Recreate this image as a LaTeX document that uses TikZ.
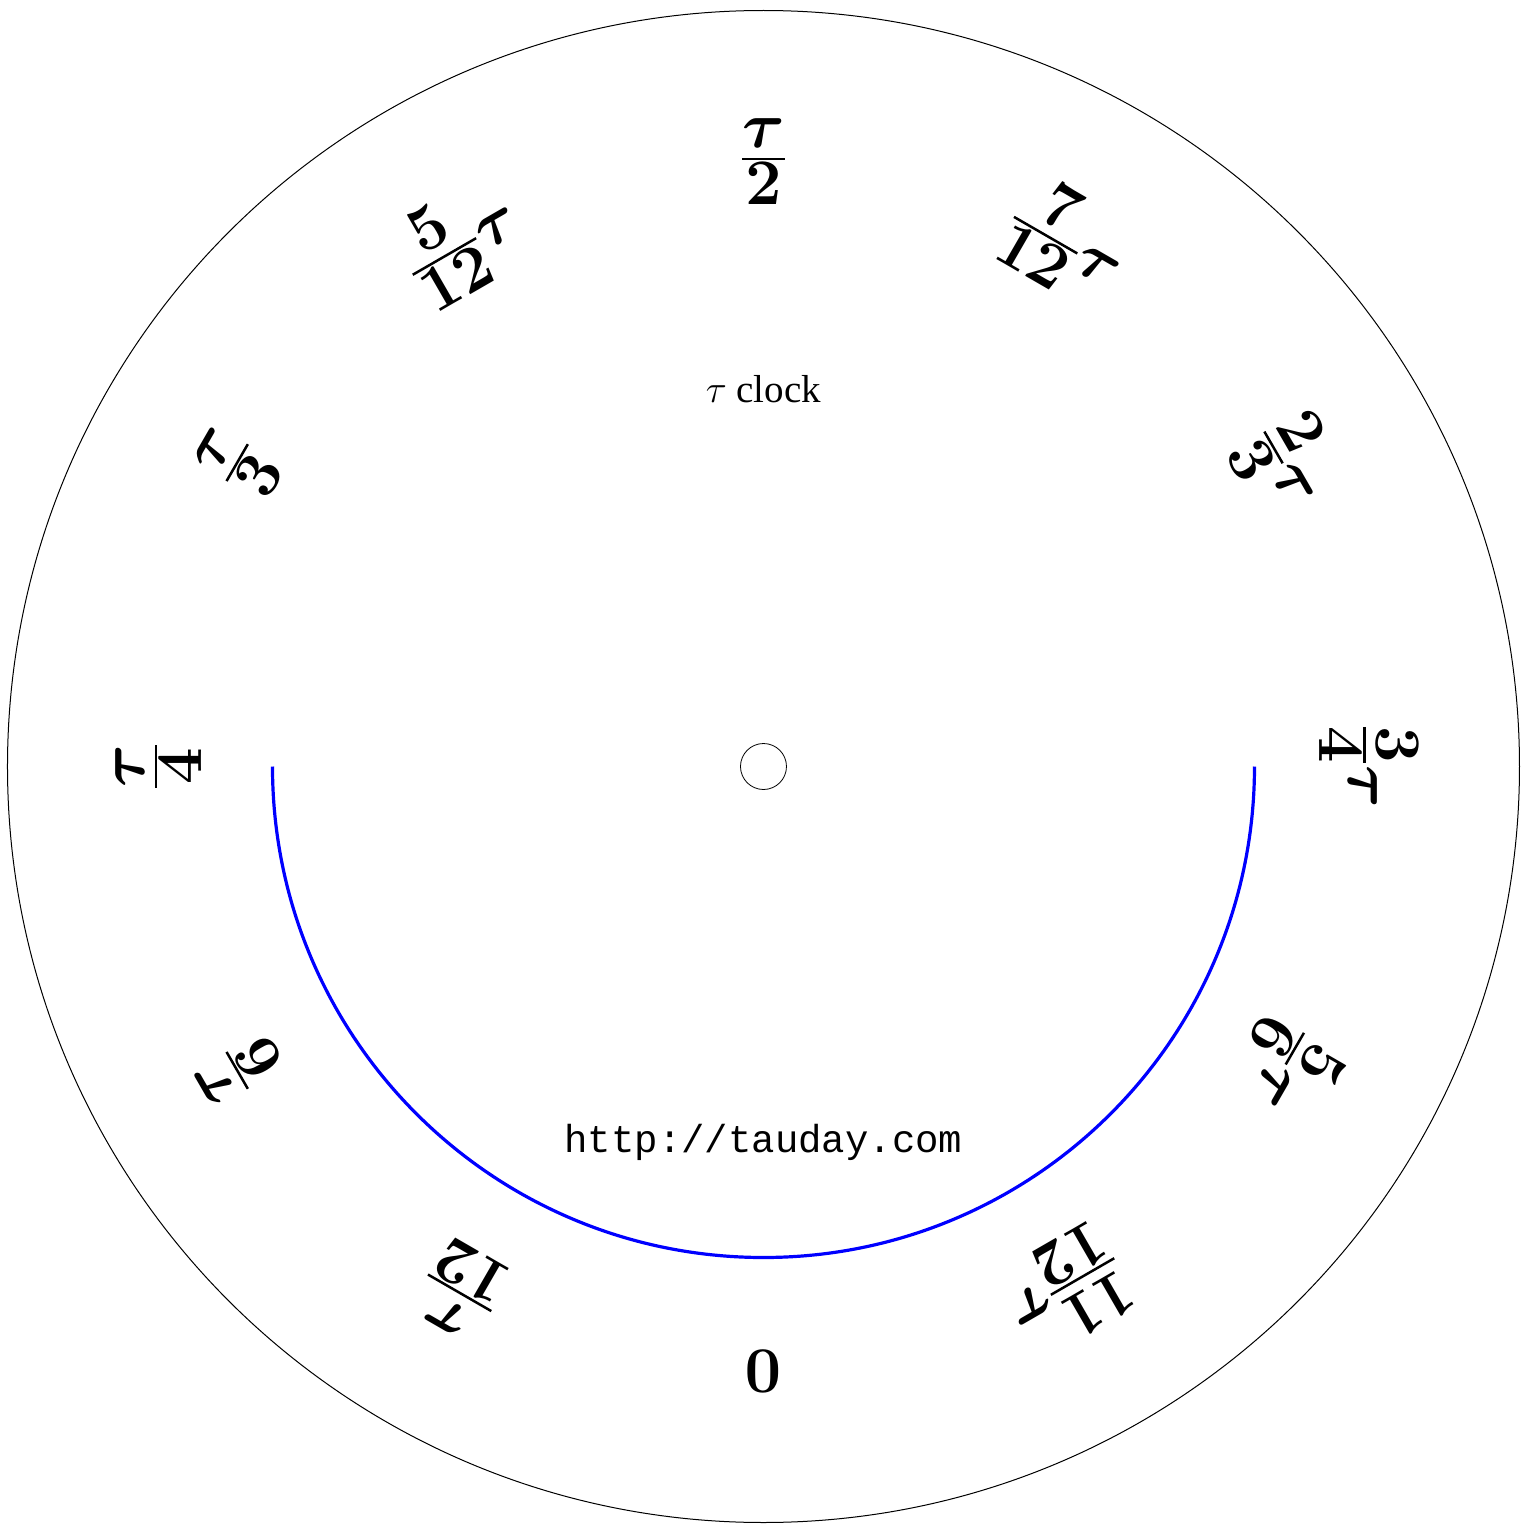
\RequirePackage{fix-cm}
\documentclass[tikz,border=0pt]{standalone}
\usepackage{amsmath}
\usepackage[no-math]{fontspec}
\setmainfont{Liberation Serif}
\setmonofont{Liberation Mono}
\newcommand\tfr[2]{\genfrac{}{}{1.25pt}{}{\textstyle #1}{\textstyle #2}}
\begin{document}
\begin{tikzpicture}[x=0.5pt,y=0.5pt,
  lab/.style={font=\fontsize{32.5}{39}\selectfont\boldmath, inner sep=0pt},
  small/.style={font=\fontsize{19.5}{23}\selectfont, inner sep=0pt}]
\useasboundingbox (-763.5,-761.5) rectangle (763.5,766.5);
\draw[line width=0.5pt] (0,0) circle[radius=756];
\node[circle, draw, line width=0.4pt, minimum size=23pt, inner sep=0pt] (hub) at (0,0) {};
\draw[blue, line width=1.6pt] (-491,0) arc[start angle=180, end angle=360, radius=491];
\node[small] (title) at (0,377) {$\tau$ clock};
\node[small, font=\fontsize{19.5}{23}\selectfont\ttfamily] (url) at (0,-376) {http://tauday.com};
\node[lab, rotate=-180] (l0) at (-90:605) {$0$};
\node[lab, rotate=150] (l1) at (-120:605) {$\tfr{\tau}{12}$};
\node[lab, rotate=120] (l2) at (-150:605) {$\tfr{\tau}{6}$};
\node[lab, rotate=90] (l3) at (180:605) {$\tfr{\tau}{4}$};
\node[lab, rotate=60] (l4) at (150:605) {$\tfr{\tau}{3}$};
\node[lab, rotate=30] (l5) at (120:605) {$\tfr{5}{12}\tau$};
\node[lab, rotate=0] (l6) at (90:605) {$\tfr{\tau}{2}$};
\node[lab, rotate=-30] (l7) at (60:605) {$\tfr{7}{12}\tau$};
\node[lab, rotate=-60] (l8) at (30:605) {$\tfr{2}{3}\tau$};
\node[lab, rotate=-90] (l9) at (0:605) {$\tfr{3}{4}\tau$};
\node[lab, rotate=-120] (l10) at (-30:605) {$\tfr{5}{6}\tau$};
\node[lab, rotate=-150] (l11) at (-60:605) {$\tfr{11}{12}\tau$};
\end{tikzpicture}
\end{document}
